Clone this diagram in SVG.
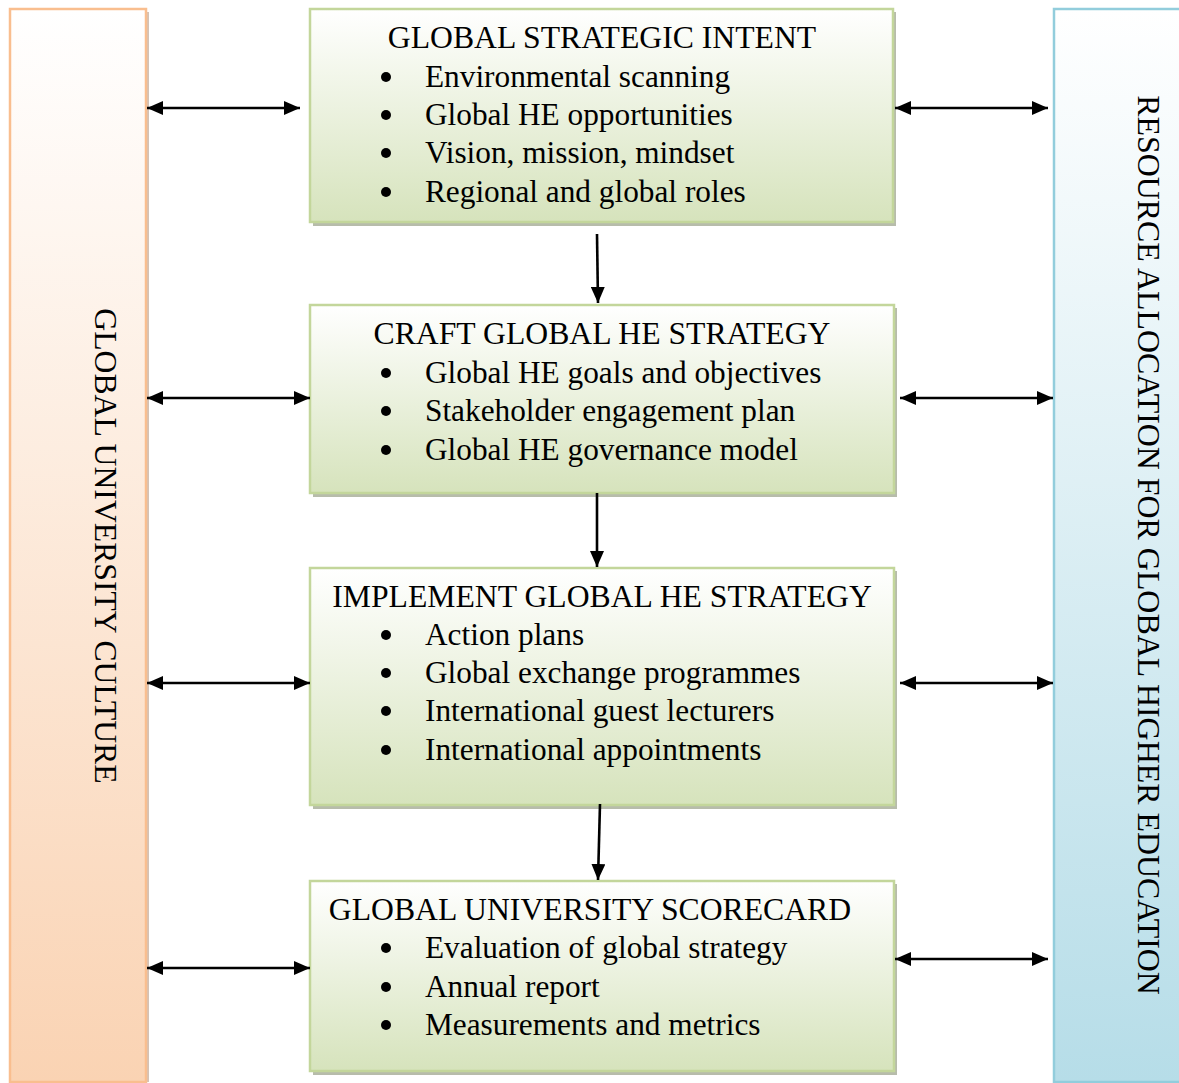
<svg xmlns="http://www.w3.org/2000/svg" width="1179" height="1083" viewBox="0 0 1179 1083">
<defs>
<linearGradient id="gGreen" x1="0" y1="0" x2="0" y2="1">
<stop offset="0" stop-color="#FFFFFF"/>
<stop offset="1" stop-color="#D6E3BC"/>
</linearGradient>
<linearGradient id="gOrange" x1="0" y1="0" x2="0" y2="1">
<stop offset="0" stop-color="#FFFFFF"/>
<stop offset="1" stop-color="#FAD3B3"/>
</linearGradient>
<linearGradient id="gBlue" x1="0" y1="0" x2="0" y2="1">
<stop offset="0" stop-color="#FFFFFF"/>
<stop offset="1" stop-color="#B6DDE8"/>
</linearGradient>
<marker id="ah" viewBox="0 0 16 14" refX="16" refY="7" markerWidth="16" markerHeight="14" markerUnits="userSpaceOnUse" orient="auto-start-reverse">
<path d="M0,0 L16,7 L0,14 z" fill="#000"/>
</marker>
<style>
.box{fill:url(#gGreen);stroke:#C3D69B;stroke-width:2.5}
.shadow{fill:#9FA58F;opacity:0.75}
.t{font-family:"Liberation Serif","Times New Roman",serif;font-size:31.3px;fill:#000}
.h{font-size:31.7px}
.dot{fill:#000}
.c{stroke:#000;stroke-width:2.6;fill:none}
.d{marker-end:url(#ah);marker-start:url(#ah)}
.e{marker-end:url(#ah)}
</style>
</defs>
<rect width="1179" height="1083" fill="#FFFFFF"/>

<g id="culture">
<rect x="147" y="12" width="2" height="1070" fill="#B79A84" opacity="0.6"/>
<rect x="10" y="9" width="136" height="1073" fill="url(#gOrange)" stroke="#F9BE8F" stroke-width="2.5"/>
<text class="t h" transform="translate(95,546) rotate(90)" text-anchor="middle">GLOBAL UNIVERSITY CULTURE</text>
</g>

<g id="resource">
<rect x="1054" y="9" width="140" height="1073" fill="url(#gBlue)" stroke="#92CDDC" stroke-width="2.5"/>
<text class="t h" transform="translate(1138,545) rotate(90)" text-anchor="middle" style="font-size:31.9px">RESOURCE ALLOCATION FOR GLOBAL HIGHER EDUCATION</text>
</g>

<g id="intent">
<rect class="shadow" x="313" y="12" width="583" height="214"/>
<rect class="box" x="310" y="9" width="583" height="213"/>
<text class="t h" x="602" y="48" text-anchor="middle">GLOBAL STRATEGIC INTENT</text>
<circle class="dot" cx="386" cy="77" r="5"/>
<text class="t" x="425" y="87">Environmental scanning</text>
<circle class="dot" cx="386" cy="115" r="5"/>
<text class="t" x="425" y="125">Global HE opportunities</text>
<circle class="dot" cx="386" cy="153" r="5"/>
<text class="t" x="425" y="163">Vision, mission, mindset</text>
<circle class="dot" cx="386" cy="192" r="5"/>
<text class="t" x="425" y="202">Regional and global roles</text>
</g>

<g id="craft">
<rect class="shadow" x="313" y="308" width="584" height="189"/>
<rect class="box" x="310" y="305" width="584" height="188"/>
<text class="t h" x="602" y="344" text-anchor="middle">CRAFT GLOBAL HE STRATEGY</text>
<circle class="dot" cx="386" cy="373" r="5"/>
<text class="t" x="425" y="383">Global HE goals and objectives</text>
<circle class="dot" cx="386" cy="411" r="5"/>
<text class="t" x="425" y="421">Stakeholder engagement plan</text>
<circle class="dot" cx="386" cy="450" r="5"/>
<text class="t" x="425" y="460">Global HE governance model</text>
</g>

<g id="implement">
<rect class="shadow" x="313" y="571" width="584" height="238"/>
<rect class="box" x="310" y="568" width="584" height="237"/>
<text class="t h" x="602" y="607" text-anchor="middle">IMPLEMENT GLOBAL HE STRATEGY</text>
<circle class="dot" cx="386" cy="635" r="5"/>
<text class="t" x="425" y="645">Action plans</text>
<circle class="dot" cx="386" cy="673" r="5"/>
<text class="t" x="425" y="683">Global exchange programmes</text>
<circle class="dot" cx="386" cy="711" r="5"/>
<text class="t" x="425" y="721">International guest lecturers</text>
<circle class="dot" cx="386" cy="750" r="5"/>
<text class="t" x="425" y="760">International appointments</text>
</g>

<g id="scorecard">
<rect class="shadow" x="313" y="884" width="584" height="191"/>
<rect class="box" x="310" y="881" width="584" height="190"/>
<text class="t h" x="590" y="920" text-anchor="middle">GLOBAL UNIVERSITY SCORECARD</text>
<circle class="dot" cx="386" cy="948" r="5"/>
<text class="t" x="425" y="958">Evaluation of global strategy</text>
<circle class="dot" cx="386" cy="987" r="5"/>
<text class="t" x="425" y="997">Annual report</text>
<circle class="dot" cx="386" cy="1025" r="5"/>
<text class="t" x="425" y="1035">Measurements and metrics</text>
</g>

<g id="connectors">
<line class="c d" x1="147" y1="108" x2="300" y2="108"/>
<line class="c d" x1="895" y1="108" x2="1048" y2="108"/>
<line class="c d" x1="147" y1="398" x2="310" y2="398"/>
<line class="c d" x1="900" y1="398" x2="1053" y2="398"/>
<line class="c d" x1="147" y1="683" x2="310" y2="683"/>
<line class="c d" x1="900" y1="683" x2="1053" y2="683"/>
<line class="c d" x1="147" y1="968" x2="310" y2="968"/>
<line class="c d" x1="895" y1="959" x2="1048" y2="959"/>
<line class="c e" x1="597" y1="234" x2="598" y2="303"/>
<line class="c e" x1="597" y1="493" x2="597" y2="567"/>
<line class="c e" x1="600" y1="804" x2="598" y2="880"/>
</g>
</svg>
